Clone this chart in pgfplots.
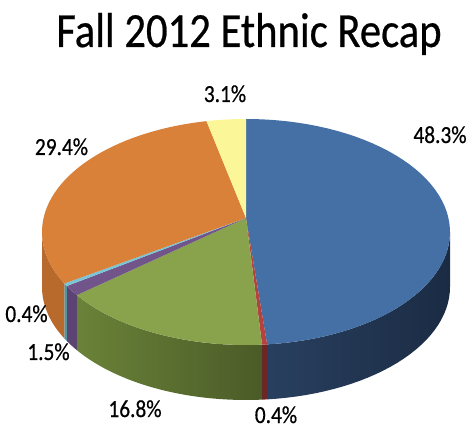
\documentclass[border=0pt]{standalone}
\usepackage{graphicx}
\usepackage{pgfplots}
\pgfplotsset{compat=1.18}
\usepackage{fontspec}
\setmainfont{Carlito}
\newfontfamily\lbl{Carlito}[FakeBold=0.6]
\definecolor{cblue}{HTML}{4470A6}
\definecolor{cred}{HTML}{B5423F}
\definecolor{cgreen}{HTML}{88A34B}
\definecolor{cpurple}{HTML}{71558A}
\definecolor{ccyan}{HTML}{78C6D8}
\definecolor{corange}{HTML}{D98039}
\definecolor{cyellow}{HTML}{FBF798}
\definecolor{sblueL}{HTML}{28405F}
\definecolor{sblueD}{HTML}{1B2B44}
\definecolor{sred}{HTML}{6B2625}
\definecolor{sgreenL}{HTML}{6A8238}
\definecolor{sgreenD}{HTML}{4B5B28}
\definecolor{spurple}{HTML}{5C4472}
\definecolor{scyan}{HTML}{4F95A6}
\definecolor{sorange}{HTML}{B8692C}
% slice values (percent), clockwise from 12 o'clock
\def\vA{48.3}\def\vB{0.4}\def\vC{16.8}\def\vD{1.5}\def\vE{0.4}\def\vF{29.4}\def\vG{3.1}
\pgfmathsetmacro\tot{\vA+\vB+\vC+\vD+\vE+\vF+\vG}
\pgfmathsetmacro\k{3.6*100/\tot}
\pgfmathsetmacro\aA{\k*\vA}
\pgfmathsetmacro\aB{\aA+\k*\vB}
\pgfmathsetmacro\aC{\aB+\k*\vC}
\pgfmathsetmacro\aD{\aC+\k*\vD}
\pgfmathsetmacro\aE{\aD+\k*\vE}
\pgfmathsetmacro\aF{\aE+\k*\vF}
\newcommand{\topslice}[3]{%
  \addplot[fill=#1, draw=none, domain=#2:#3, samples=60]
    ({246+204*sin(x)},{199+113*cos(x)}) -- (axis cs:246,213) -- cycle;}
\newcommand{\sideslice}[4]{%
  \addplot[left color=#1, right color=#2, draw=none, domain=0:3, samples=91]
    ({246+204*sin( (x<1) ? (#3+x*(#4-#3)) : ((x<2) ? #4 : (#4-(x-2)*(#4-#3))) )},
     {199+113*cos( (x<1) ? (#3+x*(#4-#3)) : ((x<2) ? #4 : (#4-(x-2)*(#4-#3))) )
       - ((x<1) ? 0 : ((x<2) ? 55*(x-1) : 55))}) -- cycle;}
\newcommand{\lab}[4]{\node[anchor=base, inner sep=0pt, font=\lbl\fontsize{#4}{#4}\selectfont] at (axis cs:#1,431-#2) {\scalebox{1}[1.15]{#3}};}
\begin{document}
\begin{tikzpicture}
\begin{axis}[
  hide axis, scale only axis,
  width=352.5pt, height=323.25pt,
  xmin=0, xmax=470, ymin=0, ymax=431,
  clip=false,
]
% sides (visible between 90 and 270 degrees)
\sideslice{sblueL}{sblueD}{90}{\aA}
\sideslice{sred}{sred}{\aA}{\aB}
\sideslice{sgreenL}{sgreenD}{\aB}{\aC}
\sideslice{spurple}{spurple}{\aC}{\aD}
\sideslice{scyan}{scyan}{\aD}{\aE}
\sideslice{sorange}{sorange}{\aE}{270}
% top faces
\topslice{cblue}{0}{\aA}
\topslice{cred}{\aA}{\aB}
\topslice{cgreen}{\aB}{\aC}
\topslice{cpurple}{\aC}{\aD}
\topslice{ccyan}{\aD}{\aE}
\topslice{corange}{\aE}{\aF}
\topslice{cyellow}{\aF}{360}
% labels
\lab{249}{47}{Fall 2012 Ethnic Recap}{32}
\lab{440}{143}{48.3\%}{16}
\lab{225}{102}{3.1\%}{16}
\lab{61.5}{155}{29.4\%}{16}
\lab{26.5}{322}{0.4\%}{16}
\lab{48.5}{360}{1.5\%}{16}
\lab{135}{417}{16.8\%}{16}
\lab{276}{423}{0.4\%}{16}
\end{axis}
\pgfresetboundingbox
\path[use as bounding box] (0,0) rectangle (352.5pt,323.25pt);
\end{tikzpicture}
\end{document}
